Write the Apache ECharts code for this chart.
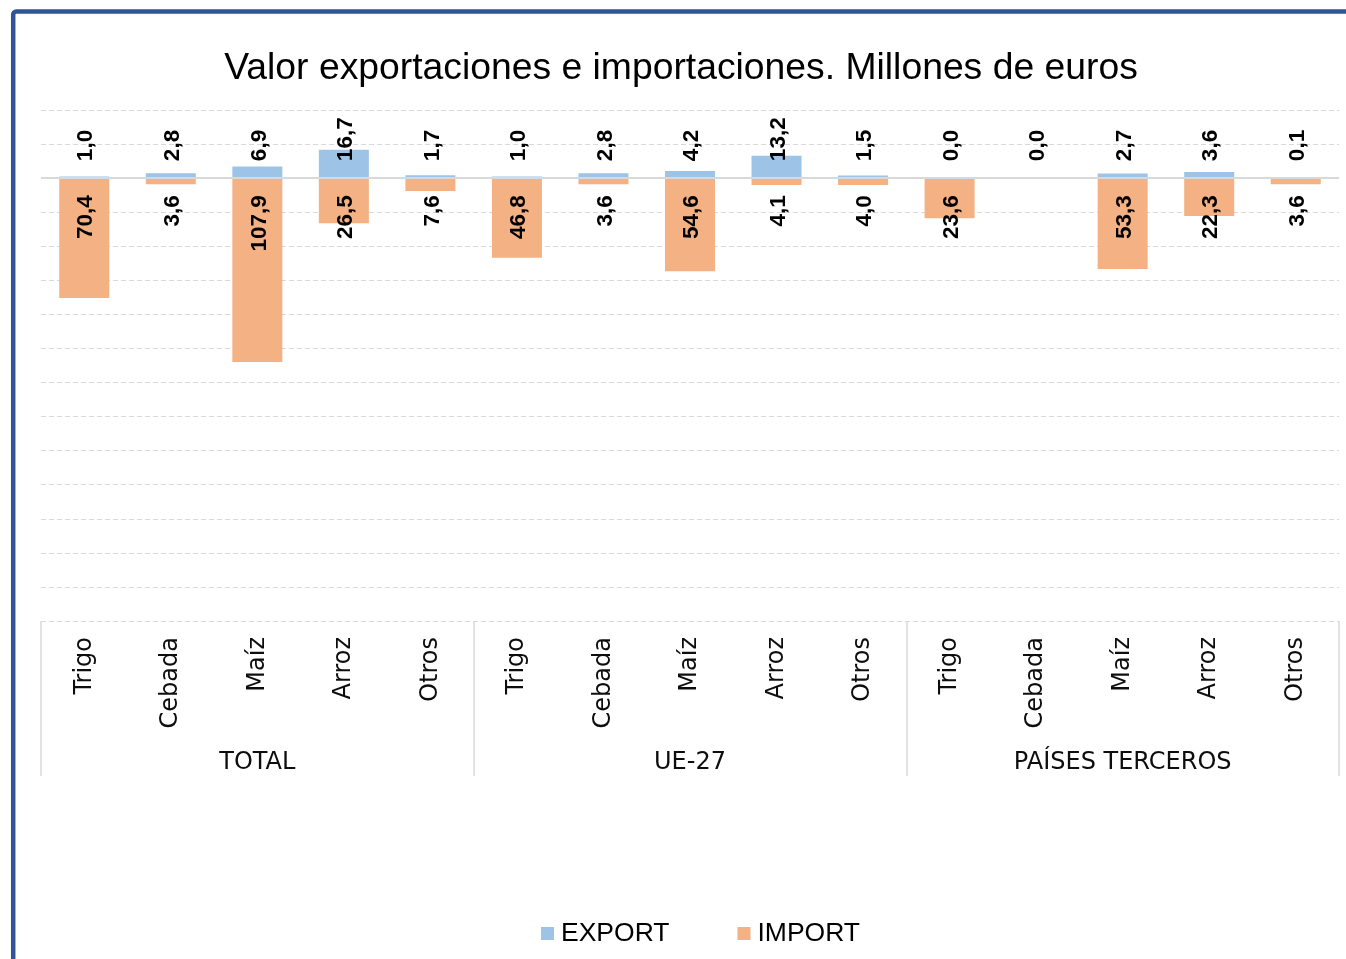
<!DOCTYPE html>
<html>
<head>
<meta charset="utf-8">
<script src="https://cdn.jsdelivr.net/npm/echarts@6/dist/echarts.min.js"></script>
<style>
  html, body { margin: 0; padding: 0; background: #ffffff; }
  #chart { width: 1346px; height: 959px; }
</style>
</head>
<body>
<div id="chart"></div>
<script>
// Cereal trade values (millions of euros) by destination/origin group
const groups = ['TOTAL', 'UE-27', 'PAÍSES TERCEROS'];
const crops = ['Trigo', 'Cebada', 'Maíz', 'Arroz', 'Otros'];

const exportTotal = [1.0, 2.8, 6.9, 16.7, 1.7];
const exportUE = [1.0, 2.8, 4.2, 13.2, 1.5];
const exportTerceros = [0.0, 0.0, 2.7, 3.6, 0.1];

const importTotal = [70.4, 3.6, 107.9, 26.5, 7.6];
const importUE = [46.8, 3.6, 54.6, 4.1, 4.0];
const importTerceros = [23.6, null, 53.3, 22.3, 3.6];

const yTicks = { min: -260, max: 40, interval: 20 };

// Flattened category axis: crops repeated inside each group
const categories = groups.flatMap(() => crops);
const exportValues = [].concat(exportTotal, exportUE, exportTerceros);
// Imports are drawn downward from the zero line
const importValues = [].concat(importTotal, importUE, importTerceros)
  .map(v => (v == null ? null : -v));

const fmt = v => Math.abs(v).toFixed(1).replace('.', ',');

const labelFont = {
  fontFamily: '"Liberation Sans", Arial, sans-serif',
  fontWeight: 'bold',
  fontSize: 22.5,
  color: '#000000'
};
const axisFont = {
  fontFamily: '"DejaVu Sans", Verdana, sans-serif',
  fontSize: 24,
  color: '#0d0d0d'
};

const chart = echarts.init(document.getElementById('chart'), null, { renderer: 'canvas' });

chart.setOption({
  animation: false,
  backgroundColor: '#ffffff',
  title: {
    text: 'Valor exportaciones e importaciones. Millones de euros',
    left: 676,
    textAlign: 'center',
    top: 45,
    textStyle: {
      fontFamily: '"Liberation Sans", Arial, sans-serif',
      fontWeight: 'normal',
      fontSize: 37.3,
      color: '#000000'
    }
  },
  graphic: [{
    type: 'rect',
    silent: true,
    z: 100,
    shape: { x: 13.2, y: 11.5, width: 1500, height: 1200, r: 3 },
    style: { fill: 'none', stroke: '#2F5597', lineWidth: 4.5 }
  }],
  legend: {
    data: ['EXPORT', 'IMPORT'],
    left: 541,
    top: 920,
    padding: 0,
    itemWidth: 13,
    itemHeight: 13,
    itemGap: 68,
    icon: 'rect',
    textStyle: {
      fontFamily: '"Liberation Sans", Arial, sans-serif',
      fontSize: 26.5,
      color: '#000000',
      padding: [0, 0, 0, 2]
    }
  },
  grid: { left: 41, right: 7, top: 110, bottom: 338, containLabel: false },
  xAxis: [{
    type: 'category',
    data: categories,
    position: 'bottom',
    axisLine: { show: false },
    axisTick: { show: false },
    axisLabel: Object.assign({ rotate: 90, margin: 16, interval: 0, padding: [0, 0, 0, 0] }, axisFont),
    splitLine: { show: false }
  }, {
    type: 'category',
    data: groups,
    position: 'bottom',
    axisLine: { show: false },
    axisTick: { show: true, length: 155, lineStyle: { color: '#d9d9d9', width: 1.5 } },
    axisLabel: Object.assign({ margin: 130, interval: 0 }, axisFont),
    splitLine: { show: false }
  }],
  yAxis: {
    type: 'value',
    min: yTicks.min,
    max: yTicks.max,
    interval: yTicks.interval,
    axisLine: { show: false },
    axisTick: { show: false },
    axisLabel: { show: false },
    splitLine: { show: true, lineStyle: { color: '#d9d9d9', type: [5, 3], width: 1 } }
  },
  series: [{
    name: 'EXPORT',
    type: 'bar',
    data: exportValues,
    barWidth: 50,
    barGap: '-100%',
    itemStyle: { color: '#9DC3E6' },
    label: Object.assign({
      show: true,
      rotate: 90,
      align: 'left',
      verticalAlign: 'middle',
      formatter: p => fmt(p.value)
    }, labelFont),
    // anchor each label just above the zero line, whatever the bar height
    labelLayout: p => ({
      x: p.rect.x + p.rect.width / 2 + 2,
      y: p.rect.y + p.rect.height - 17,
      align: 'left',
      verticalAlign: 'middle'
    }),
    markLine: {
      silent: true,
      symbol: 'none',
      label: { show: false },
      lineStyle: { color: '#d9d9d9', width: 2, type: 'solid' },
      data: [{ yAxis: 0 }]
    },
    z: 2
  }, {
    name: 'IMPORT',
    type: 'bar',
    data: importValues,
    barWidth: 50,
    barGap: '-100%',
    itemStyle: { color: '#F4B183' },
    label: Object.assign({
      show: true,
      rotate: 90,
      align: 'right',
      verticalAlign: 'middle',
      formatter: p => fmt(p.value)
    }, labelFont),
    // anchor each label just below the zero line
    labelLayout: p => ({
      x: p.rect.x + p.rect.width / 2 + 2,
      y: p.rect.y + 17,
      align: 'right',
      verticalAlign: 'middle'
    }),
    z: 2
  }]
});
</script>
</body>
</html>
